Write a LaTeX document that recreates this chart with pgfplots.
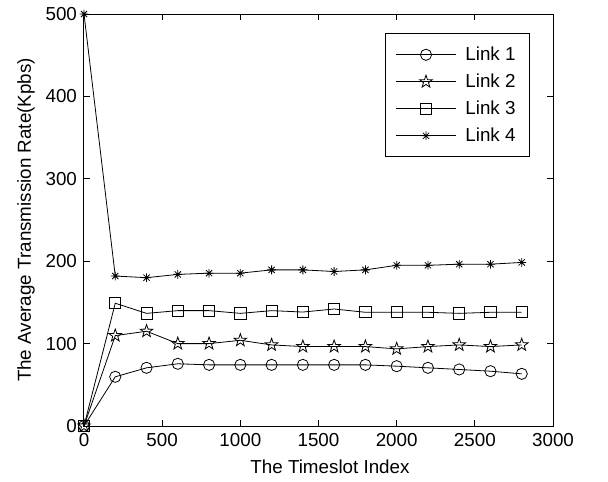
\documentclass[border=0pt]{standalone}
\usepackage{fontspec}
\setmainfont{Liberation Sans}
\usepackage{pgfplots}
\pgfplotsset{compat=1.18}
\usetikzlibrary{plotmarks}

\newcommand\ff{\fontsize{9.4}{11.2}\selectfont}

% five-pointed outline star (matlab 'p')
\pgfdeclareplotmark{pentagram}{%
  \pgfpathmoveto{\pgfpointpolar{90}{\pgfplotmarksize}}%
  \pgfpathlineto{\pgfpointpolar{126}{0.4\pgfplotmarksize}}%
  \pgfpathlineto{\pgfpointpolar{162}{\pgfplotmarksize}}%
  \pgfpathlineto{\pgfpointpolar{198}{0.4\pgfplotmarksize}}%
  \pgfpathlineto{\pgfpointpolar{234}{\pgfplotmarksize}}%
  \pgfpathlineto{\pgfpointpolar{270}{0.4\pgfplotmarksize}}%
  \pgfpathlineto{\pgfpointpolar{306}{\pgfplotmarksize}}%
  \pgfpathlineto{\pgfpointpolar{342}{0.4\pgfplotmarksize}}%
  \pgfpathlineto{\pgfpointpolar{18}{\pgfplotmarksize}}%
  \pgfpathlineto{\pgfpointpolar{54}{0.4\pgfplotmarksize}}%
  \pgfpathclose
  \pgfusepathqstroke}
% matlab '*' : plus and cross together
\pgfdeclareplotmark{mstar}{%
  \pgfpathmoveto{\pgfqpoint{0pt}{\pgfplotmarksize}}\pgfpathlineto{\pgfqpoint{0pt}{-\pgfplotmarksize}}%
  \pgfpathmoveto{\pgfqpoint{\pgfplotmarksize}{0pt}}\pgfpathlineto{\pgfqpoint{-\pgfplotmarksize}{0pt}}%
  \pgfpathmoveto{\pgfpointpolar{45}{\pgfplotmarksize}}\pgfpathlineto{\pgfpointpolar{225}{\pgfplotmarksize}}%
  \pgfpathmoveto{\pgfpointpolar{135}{\pgfplotmarksize}}\pgfpathlineto{\pgfpointpolar{315}{\pgfplotmarksize}}%
  \pgfusepathqstroke}

\begin{document}
\begin{tikzpicture}
\useasboundingbox (-42pt,-27.5pt) rectangle (262pt,213pt);
\begin{axis}[
  at={(0,0)}, anchor=south west,
  width=234.5pt, height=206pt, scale only axis,
  xmin=0, xmax=3000, ymin=0, ymax=500,
  xtick={0,500,...,3000}, ytick={0,100,...,500},
  tick align=inside, major tick length=2.8pt,
  xtick pos=both, ytick pos=both,
  scaled ticks=false,
  /pgf/number format/assume math mode=true,
  /pgf/number format/set thousands separator={},
  tick label style={font=\ff},
  label style={font=\ff},
  xlabel={The Timeslot Index},
  ylabel={The Average Transmission Rate(Kpbs)},
  xlabel style={at={(axis description cs:0.5245,-0.1148)}, anchor=base},
  ylabel style={at={(axis description cs:-0.113,0.5)}, anchor=base},
  axis line style={line width=0.5pt},
  every tick/.style={black, line width=0.5pt},
  clip=false,
  legend style={font=\ff, at={(axis description cs:0.642,0.953)}, anchor=north west,
    draw=black, line width=0.5pt, inner xsep=5pt, inner ysep=4.3pt,
    row sep=1.2pt, cells={anchor=west}, /tikz/every even column/.append style={column sep=0pt}},
  legend image code/.code={%
    \draw[mark repeat=2,mark phase=2,#1] plot coordinates {(0pt,0pt) (15pt,0pt) (30pt,0pt)};},
  legend cell align=left,
  every legend entry/.append style={},
]
\addplot[black, line width=0.4pt, mark=o, mark size=2.8pt, mark options={solid}] coordinates {
(0,0)(200,59.7)(400,70.6)(600,75.5)(800,74.2)(1000,74.2)(1200,74.2)(1400,74.2)(1600,74.2)(1800,74.2)(2000,72.6)(2200,70.6)(2400,68.6)(2600,66.5)(2800,63.3)};
\addlegendentry{\hspace{2.5pt}Link 1}
\addplot[black, line width=0.4pt, mark=pentagram, mark size=3.3pt] coordinates {
(0,0)(200,109.7)(400,115)(600,100)(800,100)(1000,104)(1200,98.4)(1400,96.4)(1600,96.4)(1800,96.4)(2000,93.6)(2200,96.4)(2400,98.4)(2600,96.4)(2800,98.4)};
\addlegendentry{\hspace{2.5pt}Link 2}
\addplot[black, line width=0.4pt, mark=square, mark size=2.8pt] coordinates {
(0,0)(200,149)(400,136.7)(600,140)(800,140)(1000,136.7)(1200,140)(1400,138.3)(1600,142)(1800,138)(2000,138)(2200,138)(2400,136.7)(2600,138)(2800,138)};
\addlegendentry{\hspace{2.5pt}Link 3}
\addplot[black, line width=0.4pt, mark=mstar, mark size=2.2pt] coordinates {
(0,500)(200,182)(400,180)(600,184)(800,185.5)(1000,185.5)(1200,189.5)(1400,189.5)(1600,187.5)(1800,189.5)(2000,195)(2200,195)(2400,196.4)(2600,196.4)(2800,198.5)};
\addlegendentry{\hspace{2.5pt}Link 4}
\end{axis}
\end{tikzpicture}
\end{document}
